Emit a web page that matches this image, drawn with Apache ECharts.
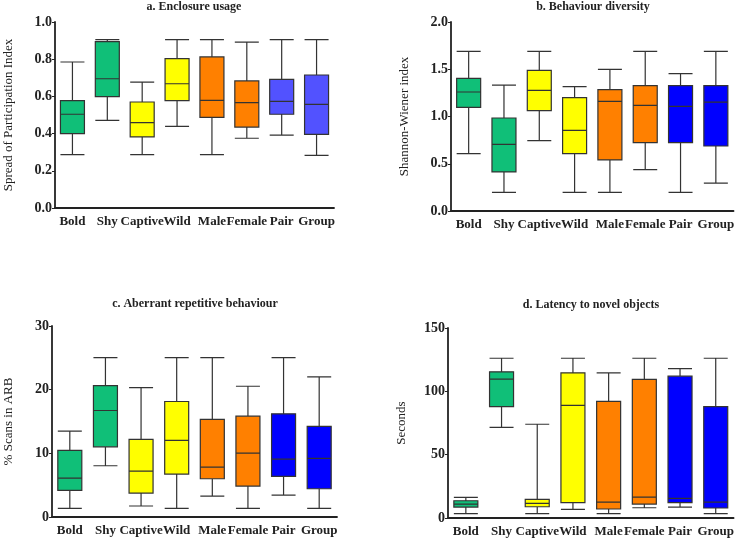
<!DOCTYPE html>
<html lang="en">
<head>
  <meta charset="UTF-8">
  <title>Boxplots</title>
  <style>
    body { margin: 0; background: #fff; }
    #chart { width: 737px; height: 538px; }
  </style>
</head>
<body>
  <div id="chart"></div>
  <script src="https://cdn.jsdelivr.net/npm/echarts@6/dist/echarts.min.js"></script>
  <script>
    var categories = ['Bold', 'Shy', 'Captive', 'Wild', 'Male', 'Female', 'Pair', 'Group'];

    // [min, Q1, median, Q3, max]
    var enclosureUsage = [
      [0.287, 0.40, 0.504, 0.577, 0.785],
      [0.471, 0.599, 0.695, 0.894, 0.905],
      [0.287, 0.382, 0.459, 0.57, 0.677],
      [0.439, 0.577, 0.668, 0.803, 0.905],
      [0.287, 0.487, 0.579, 0.812, 0.905],
      [0.375, 0.435, 0.566, 0.683, 0.892],
      [0.392, 0.504, 0.573, 0.692, 0.905],
      [0.283, 0.396, 0.557, 0.715, 0.905]
    ];
    var behaviourDiversity = [
      [0.607, 1.097, 1.259, 1.404, 1.69],
      [0.198, 0.413, 0.705, 0.984, 1.333],
      [0.744, 1.062, 1.277, 1.489, 1.69],
      [0.198, 0.607, 0.854, 1.199, 1.316],
      [0.198, 0.54, 1.16, 1.284, 1.499],
      [0.437, 0.723, 1.118, 1.326, 1.69],
      [0.198, 0.723, 1.108, 1.326, 1.453],
      [0.296, 0.688, 1.153, 1.326, 1.69]
    ];
    var aberrantBehaviour = [
      [1.36, 4.18, 6.12, 10.45, 13.5],
      [8.05, 11.03, 16.73, 20.65, 25.04],
      [1.73, 3.76, 7.21, 12.18, 20.33],
      [1.36, 6.74, 12.02, 18.14, 25.04],
      [3.29, 6.01, 7.84, 15.32, 25.04],
      [1.36, 4.86, 10.04, 15.84, 20.54],
      [3.45, 6.38, 9.1, 16.2, 25.04],
      [1.36, 4.44, 9.2, 14.22, 22.0]
    ];
    var noveltyLatency = [
      [3.4, 8.65, 11.0, 13.6, 16.3],
      [71.6, 87.9, 109.6, 115.4, 126.1],
      [3.4, 8.9, 11.5, 14.7, 74.0],
      [6.8, 12.1, 88.9, 114.6, 126.1],
      [3.4, 7.1, 12.6, 92.0, 114.6],
      [8.1, 11.0, 16.5, 109.4, 126.1],
      [8.65, 12.1, 15.5, 112.0, 118.0],
      [3.4, 7.9, 12.6, 87.9, 126.1]
    ];

    var coloursA = ['#10bf78', '#10bf78', '#ffff00', '#ffff00', '#ff8000', '#ff8000', '#5252ff', '#5252ff'];
    var coloursB = ['#10bf78', '#10bf78', '#ffff00', '#ffff00', '#ff8000', '#ff8000', '#0000ff', '#0000ff'];

    var panels = [
      { title: 'a. Enclosure usage', name: 'Spread of Participation Index', data: enclosureUsage, colours: coloursA,
        max: 1.0, interval: 0.2, digits: 1, grid: { left: 55, top: 22, width: 279, height: 186 }, titlePos: [194, 1], nameGap: 40 },
      { title: 'b. Behaviour diversity', name: 'Shannon-Wiener index', data: behaviourDiversity, colours: coloursB,
        max: 2.0, interval: 0.5, digits: 1, grid: { left: 451, top: 22, width: 285, height: 189 }, titlePos: [593, 1], nameGap: 40 },
      { title: 'c. Aberrant repetitive behaviour', name: '% Scans in ARB', data: aberrantBehaviour, colours: coloursB,
        max: 30, interval: 10, digits: 0, grid: { left: 52, top: 326, width: 285, height: 191 }, titlePos: [195, 298], nameGap: 37 },
      { title: 'd. Latency to novel objects', name: 'Seconds', data: noveltyLatency, colours: coloursB,
        max: 150, interval: 50, digits: 0, grid: { left: 448, top: 328, width: 286, height: 190 }, titlePos: [591, 299], nameGap: 40 }
    ];

    var font = 'Liberation Serif';
    var option = { animation: false, title: [], grid: [], xAxis: [], yAxis: [], series: [] };

    panels.forEach(function (p, i) {
      option.title.push({
        text: p.title, left: p.titlePos[0], top: p.titlePos[1], textAlign: 'center', padding: 0,
        textStyle: { fontFamily: font, fontWeight: 'bold', fontSize: 12, color: '#222' }
      });
      option.grid.push(p.grid);
      option.xAxis.push({
        type: 'category', gridIndex: i, data: categories,
        axisLine: { lineStyle: { color: '#222', width: 1.8 } },
        axisTick: { alignWithLabel: true, length: 3, lineStyle: { color: '#222' } },
        axisLabel: { fontFamily: font, fontWeight: 'bold', fontSize: 13, color: '#222', margin: 7, interval: 0 }
      });
      option.yAxis.push({
        type: 'value', gridIndex: i, min: 0, max: p.max, interval: p.interval,
        name: p.name, nameLocation: 'middle', nameGap: p.nameGap,
        nameTextStyle: { fontFamily: font, fontSize: 13, color: '#222' },
        axisLine: { show: true, lineStyle: { color: '#222', width: 1.8 } },
        axisTick: { show: true, length: 3, lineStyle: { color: '#222' } },
        splitLine: { show: false },
        axisLabel: {
          fontFamily: font, fontWeight: 'bold', fontSize: 14, color: '#222', margin: 3,
          formatter: function (v) { return v.toFixed(p.digits); }
        }
      });
      option.series.push({
        type: 'boxplot', xAxisIndex: i, yAxisIndex: i,
        boxWidth: [24, 24],
        data: p.data.map(function (d, k) {
          return { value: d, itemStyle: { color: p.colours[k], borderColor: '#333', borderWidth: 1.2 } };
        })
      });
    });

    var chart = echarts.init(document.getElementById('chart'));
    chart.setOption(option);
  </script>
</body>
</html>
